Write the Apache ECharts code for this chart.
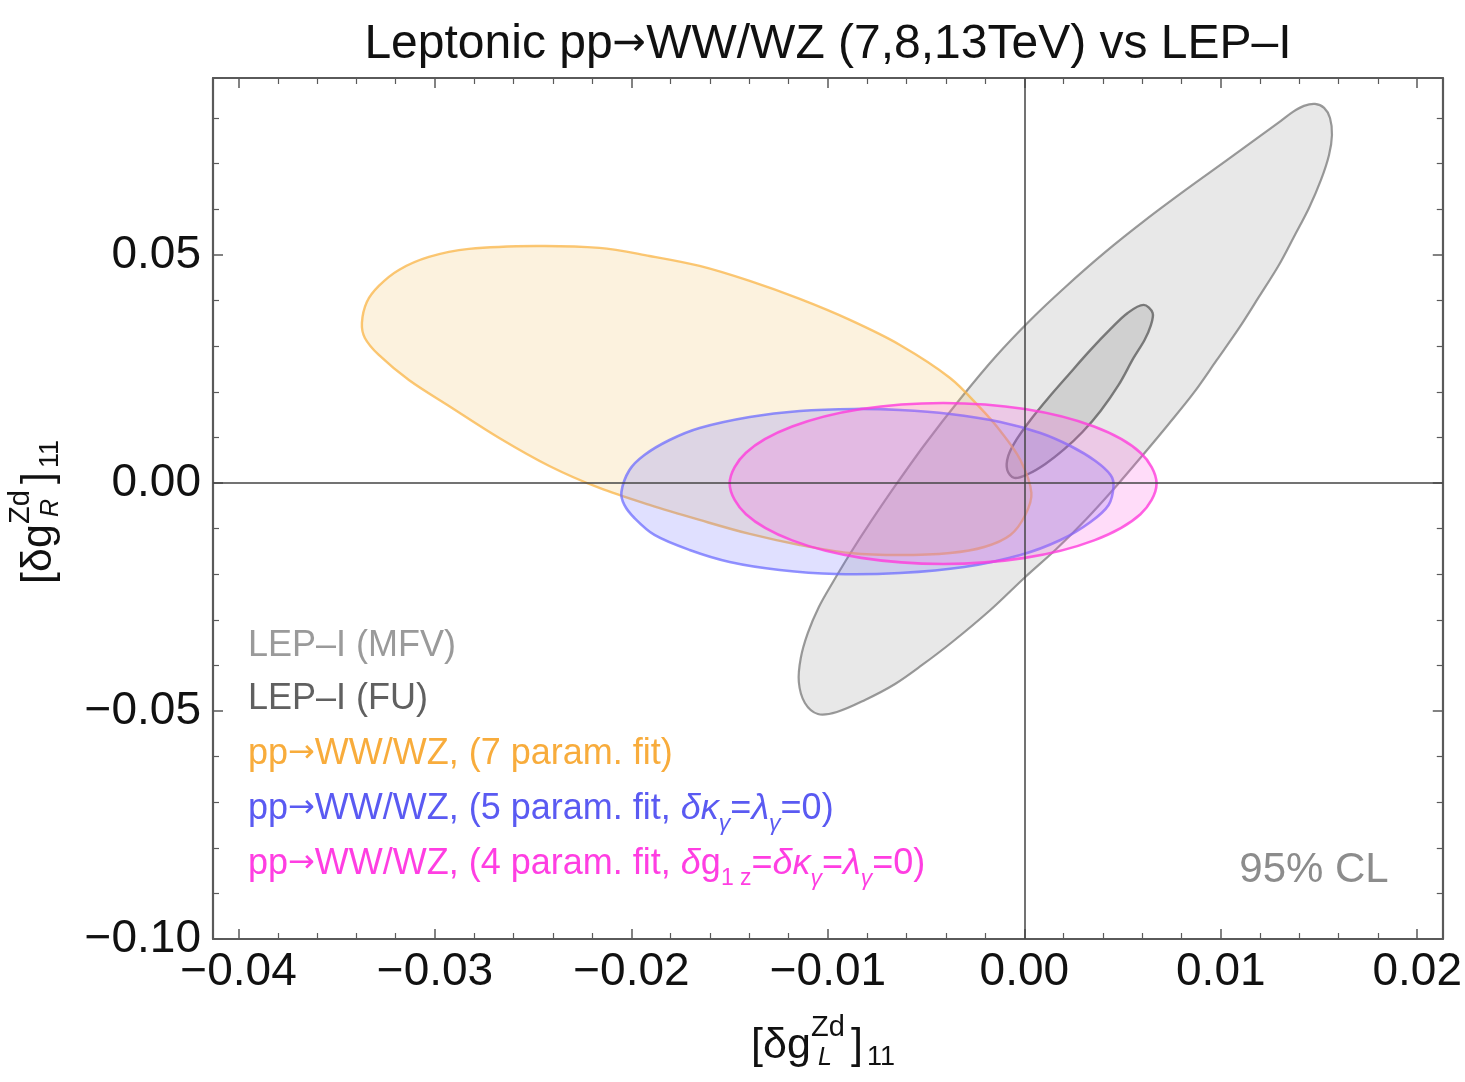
<!DOCTYPE html>
<html><head><meta charset="utf-8">
<script src="https://cdn.jsdelivr.net/npm/echarts@6/dist/echarts.min.js"></script>
<style>html,body{margin:0;padding:0;background:#fff}#c{width:1465px;height:1082px}</style>
</head><body><div id="c"></div>
<script>
// ---- data ----
const xTicks = [-0.04, -0.03, -0.02, -0.01, 0.00, 0.01, 0.02];
const yTicks = [-0.10, -0.05, 0.00, 0.05];
const xRange = [-0.0413, 0.0213];
const yRange = [-0.100, 0.0888];

// LEP-I (MFV) contour, large gray
const lepMfv = [
  [0.01480, 0.08311], [0.01526, 0.08224], [0.01556, 0.08004], [0.01566, 0.07632],
  [0.01551, 0.07193], [0.01510, 0.06645], [0.01449, 0.06031], [0.01372, 0.05395],
  [0.01296, 0.04781], [0.01194, 0.04079], [0.01097, 0.03421], [0.00980, 0.02697],
  [0.00862, 0.01974], [0.00735, 0.01294], [0.00612, 0.00658], [0.00464, -0.00088],
  [0.00316, -0.00789], [0.00163, -0.01447], [0.00005, -0.02061], [-0.00173, -0.02785],
  [-0.00367, -0.03487], [-0.00520, -0.03991], [-0.00658, -0.04408], [-0.00811, -0.04759],
  [-0.00954, -0.05022], [-0.01051, -0.05066], [-0.01117, -0.04825], [-0.01148, -0.04364],
  [-0.01138, -0.03838], [-0.01102, -0.03289], [-0.01046, -0.02719], [-0.00974, -0.02171],
  [-0.00888, -0.01557], [-0.00786, -0.00877], [-0.00658, -0.00066], [-0.00505, 0.00855],
  [-0.00327, 0.01842], [-0.00148, 0.02763], [0.00031, 0.03575], [0.00209, 0.04298],
  [0.00413, 0.05066], [0.00617, 0.05768], [0.00821, 0.06425], [0.01026, 0.07061],
  [0.01194, 0.07588], [0.01306, 0.07939], [0.01367, 0.08136], [0.01423, 0.08268]
];
// LEP-I (FU) contour, small dark gray
const lepFu = [
  [0.00607, 0.03904], [0.00653, 0.03728], [0.00643, 0.03443], [0.00612, 0.03136],
  [0.00556, 0.02741], [0.00480, 0.02149], [0.00388, 0.01579], [0.00296, 0.01118],
  [0.00199, 0.00724], [0.00107, 0.00417], [0.00020, 0.00197], [-0.00051, 0.00110],
  [-0.00087, 0.00285], [-0.00082, 0.00592], [-0.00041, 0.00943], [0.00031, 0.01382],
  [0.00122, 0.01864], [0.00224, 0.02368], [0.00337, 0.02917], [0.00439, 0.03377],
  [0.00526, 0.03728]
];
// pp->WW/WZ 7 param fit (orange)
const pp7 = [
  [-0.03372, 0.03509], [-0.03347, 0.03969], [-0.03286, 0.04320], [-0.03184, 0.04671],
  [-0.03031, 0.04956], [-0.02827, 0.05132], [-0.02485, 0.05197], [-0.02163, 0.05154],
  [-0.01908, 0.04978], [-0.01653, 0.04759], [-0.01398, 0.04430], [-0.01143, 0.04035],
  [-0.00888, 0.03575], [-0.00633, 0.03026], [-0.00378, 0.02303], [-0.00224, 0.01645],
  [-0.00122, 0.01140], [-0.00020, 0.00504], [0.00036, -0.00219], [0.00005, -0.00702],
  [-0.00071, -0.01140], [-0.00204, -0.01404], [-0.00378, -0.01535], [-0.00633, -0.01579],
  [-0.00888, -0.01535], [-0.01143, -0.01360], [-0.01398, -0.01118], [-0.01653, -0.00811],
  [-0.01908, -0.00482], [-0.02163, -0.00110], [-0.02418, 0.00373], [-0.02673, 0.00987],
  [-0.02929, 0.01689], [-0.03133, 0.02259], [-0.03286, 0.02807], [-0.03357, 0.03180]
];
// pp->WW/WZ 5 param fit (blue)
const pp5 = [
  [-0.02051, -0.00197], [-0.02010, 0.00285], [-0.01934, 0.00614], [-0.01806, 0.00943],
  [-0.01653, 0.01206], [-0.01398, 0.01447], [-0.01143, 0.01579], [-0.00862, 0.01623],
  [-0.00633, 0.01601], [-0.00378, 0.01513], [-0.00122, 0.01338], [0.00082, 0.01096],
  [0.00235, 0.00811], [0.00362, 0.00482], [0.00439, 0.00175], [0.00454, -0.00066],
  [0.00429, -0.00482], [0.00337, -0.00855], [0.00184, -0.01250], [-0.00020, -0.01579],
  [-0.00306, -0.01842], [-0.00633, -0.01974], [-0.00959, -0.01996], [-0.01245, -0.01908],
  [-0.01500, -0.01732], [-0.01704, -0.01469], [-0.01883, -0.01140], [-0.01985, -0.00768],
  [-0.02036, -0.00482]
];
// pp->WW/WZ 4 param fit (magenta)
const pp4 = [
  [0.00673, -0.00011], [0.00591, 0.00664], [0.00355, 0.01237], [0.00003, 0.01621],
  [-0.00413, 0.01754], [-0.00830, 0.01621], [-0.01182, 0.01237], [-0.01417, 0.00664],
  [-0.01500, -0.00011], [-0.01417, -0.00686], [-0.01182, -0.01259], [-0.00830, -0.01643],
  [-0.00413, -0.01776], [0.00003, -0.01643], [0.00355, -0.01259], [0.00591, -0.00686]
];

// ---- chart ----
const FONT = '"Liberation Sans", Arial, Helvetica, sans-serif';
const ARROWFONT = '"DejaVu Sans", sans-serif';
const chart = echarts.init(document.getElementById('c'), null, {renderer: 'canvas'});

function fmt(v) {
  const t = xTicks.concat(yTicks).find(a => Math.abs(a - v) < 1e-9);
  if (t === undefined) return '';
  return (t < -1e-12 ? '\u2212' : '') + Math.abs(t).toFixed(2);
}

function contour(name, data, fill, stroke, lw, extra) {
  return Object.assign({
    type: 'custom', name, data, silent: true,
    xAxisIndex: 0, yAxisIndex: 0,
    encode: {x: 0, y: 1},
    renderItem(params, api) {
      if (params.dataIndex !== 0) return null;
      const pts = data.map(p => api.coord(p));
      return {type: 'polygon', shape: {points: pts, smooth: 0.34},
              style: {fill, stroke, lineWidth: lw, lineJoin: 'round'}};
    }
  }, extra || {});
}

const tickColor = '#5a5a5a';
function xAxisDef(pos, labels) {
  return {
    type: 'value', position: pos, min: xRange[0], max: xRange[1], splitNumber: 6,
    axisLine: {show: true, onZero: false, lineStyle: {color: tickColor, width: 2.2}},
    axisTick: {show: true, inside: true, length: 10, lineStyle: {color: tickColor, width: 1.5}},
    minorTick: {show: true, splitNumber: 5, length: 6, lineStyle: {color: tickColor, width: 1.2}},
    splitLine: {show: false},
    axisLabel: {show: labels, showMinLabel: false, showMaxLabel: false, fontSize: 46,
                fontFamily: FONT, color: '#111', margin: 10, formatter: fmt}
  };
}
function yAxisDef(pos, labels) {
  return {
    type: 'value', position: pos, min: yRange[0], max: yRange[1], splitNumber: 4,
    axisLine: {show: true, onZero: false, lineStyle: {color: tickColor, width: 2.2}},
    axisTick: {show: true, inside: true, length: 10, lineStyle: {color: tickColor, width: 1.5}},
    minorTick: {show: true, splitNumber: 5, length: 6, lineStyle: {color: tickColor, width: 1.2}},
    splitLine: {show: false},
    axisLabel: {show: labels, showMinLabel: true, showMaxLabel: false, fontSize: 46,
                fontFamily: FONT, color: '#111', margin: 12, formatter: fmt}
  };
}

function axisTitle(cx, cy, rot, sub) {
  const t = (x, y, text, size, italic) => ({
    type: 'text', x, y,
    style: {text, font: (italic ? 'italic ' : '') + size + 'px ' + FONT, fill: '#111',
            align: 'left', verticalAlign: 'middle', textAlign: 'left', textVerticalAlign: 'middle'}
  });
  return {
    type: 'group', x: cx, y: cy, rotation: rot,
    children: [
      t(-76, 1, '[\u03b4g', 43, false),
      t(-16, -17, 'Zd', 29, false),
      t(-9, 13, sub, 25, true),
      t(24, 1, ']', 43, false),
      t(40, 13, '11', 27, false)
    ]
  };
}

function richFor(color) {
  return {
    n: {fill: color, fontSize: 36, fontFamily: FONT, lineHeight: 52},
    a: {fill: color, fontSize: 32, fontFamily: ARROWFONT, lineHeight: 52},
    i: {fill: color, fontSize: 36, fontFamily: FONT, fontStyle: 'italic', lineHeight: 52},
    s: {fill: color, fontSize: 23, fontFamily: FONT, fontStyle: 'italic', lineHeight: 23, verticalAlign: 'bottom'},
    su: {fill: color, fontSize: 23, fontFamily: FONT, lineHeight: 23, verticalAlign: 'bottom'}
  };
}
function legendLine(y, text, color) {
  return {
    type: 'text', x: 248, y,
    style: {text, fill: color, font: '36px ' + FONT, align: 'left', verticalAlign: 'middle',
            textAlign: 'left', textVerticalAlign: 'middle', rich: richFor(color)}
  };
}
const blueTxt = '#5a5af2', magTxt = '#ff3ee2', orTxt = '#f8ac3c';
const PP = '{n|pp}{a|\u2192}{n|WW/WZ, ';

const option = {
  backgroundColor: '#fff',
  animation: false,
  grid: {left: 213, right: 22, top: 78, bottom: 143, containLabel: false},
  xAxis: [xAxisDef('bottom', true), xAxisDef('top', false)],
  yAxis: [yAxisDef('left', true), yAxisDef('right', false)],
  series: [
    contour('LEP-I (MFV)', lepMfv, 'rgba(128,128,128,0.18)', 'rgba(120,120,120,0.75)', 2.2),
    contour('LEP-I (FU)', lepFu, 'rgba(90,90,90,0.17)', 'rgba(95,95,95,0.8)', 2.4),
    contour('7 param', pp7, 'rgba(240,190,90,0.2)', 'rgba(250,180,70,0.75)', 2.4),
    contour('5 param', pp5, 'rgba(100,100,255,0.2)', 'rgba(110,110,255,0.75)', 2.6),
    contour('4 param', pp4, 'rgba(255,80,225,0.2)', 'rgba(255,60,220,0.8)', 2.6, {
      markLine: {
        silent: true, symbol: 'none', label: {show: false}, animation: false,
        lineStyle: {color: '#444', width: 1.5, type: 'solid'},
        emphasis: {disabled: true},
        data: [{xAxis: 0}, {yAxis: 0}]
      }
    })
  ],
  graphic: [
    {type: 'text', x: 828, y: 45,
     style: {text: '{t|Leptonic pp}{a|\u2192}{t|WW/WZ (7,8,13TeV) vs LEP\u2013I}', font: '48px ' + FONT, fill: '#111',
             align: 'center', verticalAlign: 'middle', textAlign: 'center', textVerticalAlign: 'middle',
             rich: {t: {fill: '#111', fontSize: 48, fontFamily: FONT, lineHeight: 58},
                    a: {fill: '#111', fontSize: 40, fontFamily: ARROWFONT, lineHeight: 58}}}},
    axisTitle(827, 1045, 0, 'L'),
    axisTitle(38, 508, Math.PI / 2, 'R'),
    legendLine(646, '{n|LEP\u2013I (MFV)}', '#9a9a9a'),
    legendLine(699, '{n|LEP\u2013I (FU)}', '#606060'),
    legendLine(754, PP + '(7 param. fit)}', orTxt),
    legendLine(809, PP + '(5 param. fit, }{i|\u03b4\u03ba}{s|\u03b3}{n|=}{i|\u03bb}{s|\u03b3}{n|=0)}', blueTxt),
    legendLine(864, PP + '(4 param. fit, }{i|\u03b4}{n|g}{su|1 z}{n|=}{i|\u03b4\u03ba}{s|\u03b3}{n|=}{i|\u03bb}{s|\u03b3}{n|=0)}', magTxt),
    {type: 'text', x: 1314, y: 870,
     style: {text: '95% CL', font: '42px ' + FONT, fill: '#8c8c8c',
             align: 'center', verticalAlign: 'middle', textAlign: 'center', textVerticalAlign: 'middle'}}
  ]
};
chart.setOption(option);
</script>
</body></html>
